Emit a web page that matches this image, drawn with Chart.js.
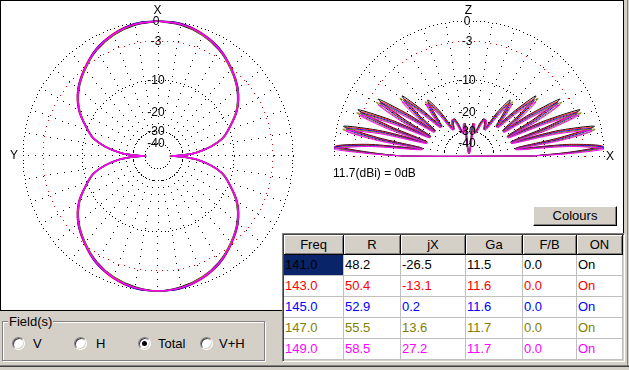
<!DOCTYPE html>
<html><head><meta charset="utf-8">
<script src="https://cdn.jsdelivr.net/npm/chart.js@4.4.0/dist/chart.umd.min.js"></script>
<style>
html,body{margin:0;padding:0;}
body{width:629px;height:370px;background:#d4d0c8;position:relative;overflow:hidden;font-family:Arial,"Liberation Sans",sans-serif;color:#000;}
#panel{position:absolute;left:0;top:0;width:624px;height:311px;box-sizing:border-box;border:1px solid #000;background:#fff;}
canvas{position:absolute;}
.lbl{position:absolute;font-size:12px;line-height:12px;transform:translate(-50%,-50%);white-space:nowrap;}
#btn{position:absolute;left:533px;top:206px;width:84px;height:20px;box-sizing:border-box;border:1px solid;border-color:#fff #000 #000 #fff;box-shadow:inset -1px -1px 0 #808080;background:#d4d0c8;font-size:13px;line-height:18px;text-align:center;}
#tbl{position:absolute;left:282px;top:233px;width:343px;height:129px;box-sizing:border-box;border:1px solid;border-color:#808080 #fff #fff #808080;box-shadow:inset 1px 1px 0 #404040;background:#d4d0c8;padding:1px 0 0 1px;}
table{border-collapse:separate;border-spacing:0;table-layout:fixed;font-size:13px;}
th,td{box-sizing:border-box;padding:0;white-space:nowrap;overflow:hidden;}
th{height:20px;font-weight:normal;background:#d4d0c8;border-right:1px solid #000;border-bottom:1px solid #000;box-shadow:inset 1px 1px 0 #fff,inset -1px -1px 0 #808080;text-align:center;line-height:18px;}
td{height:21px;background:#fff;border-right:1px solid #c0c0c0;border-bottom:1px solid #c0c0c0;padding-left:1px;line-height:20px;}
td.sel{background:#0a246a;}
#grp{position:absolute;left:2px;top:321px;width:263px;height:40px;box-sizing:border-box;border:1px solid #808080;box-shadow:inset 1px 1px 0 #fff,1px 1px 0 #fff;}
#grpLbl{position:absolute;left:8px;top:314px;font-size:13px;line-height:15px;background:#d4d0c8;padding:0 1px;}
.rb{position:absolute;top:337px;width:13px;height:13px;border-radius:50%;background:#fff;box-sizing:border-box;border:1px solid;border-color:#808080 #fff #fff #808080;box-shadow:inset 1px 1px 0 #404040,inset -1px -1px 0 #d4d0c8;}
.rb.on::after{content:'';position:absolute;left:3px;top:3px;width:5px;height:5px;border-radius:50%;background:#000;}
.rt{position:absolute;top:336px;font-size:13px;line-height:15px;}
#edgeR{position:absolute;left:627px;top:0;width:1px;height:366px;background:#808080;}
#edgeB1{position:absolute;left:0;top:365px;width:629px;height:1px;background:#808080;}
#edgeB2{position:absolute;left:0;top:366px;width:629px;height:1px;background:#404040;}
</style></head>
<body>
<div id="panel"></div>
<canvas id="azC" width="316" height="310" style="left:0;top:0;width:316px;height:310px"></canvas>
<canvas id="elC" width="300" height="190" style="left:320px;top:0;width:300px;height:190px"></canvas>
<div id="btn">Colours</div>
<div id="tbl"><table>
<colgroup><col style="width:60px"><col style="width:57px"><col style="width:65px"><col style="width:57px"><col style="width:54px"><col style="width:46px"></colgroup>
<thead><tr id="hdr"></tr></thead><tbody id="tb"></tbody></table></div>
<div id="grp"></div><div id="grpLbl">Field(s)</div>
<div id="radios"></div>
<div id="edgeR"></div><div id="edgeB1"></div><div id="edgeB2"></div>
<script>
// ---------------- DATA ----------------
const freqs  = ['141.0','143.0','145.0','147.0','149.0'];
const resR   = ['48.2','50.4','52.9','55.5','58.5'];
const resJX  = ['-26.5','-13.1','0.2','13.6','27.2'];
const gainGa = ['11.5','11.6','11.6','11.7','11.7'];
const fbVals = ['0.0','0.0','0.0','0.0','0.0'];
const onVals = ['On','On','On','On','On'];
const headers = ['Freq','R','jX','Ga','F/B','ON'];
const fieldOptions = ['V','H','Total','V+H'];
const fieldSelected = 'Total';
const refText = '11.7(dBi) = 0dB';

// dB ring tick labels
const ringTicks = [0,-3,-10,-20,-30,-40];

// Azimuth pattern (angle from X axis, degrees) and gain (dB) per frequency
const azAngles = [0,10,20,30,40,50,60,70,75,80,85,88,90,92,95,100,105,110,120,130,140,150,160,170,180,190,200,210,220,230,240,250,255,260,265,268,270,272,275,280,285,290,300,310,320,330,340,350,360];
const az141 = [0,-0.3,-0.9,-1.9,-3.3,-5.1,-7.4,-10.6,-13.1,-17.2,-23.3,-30.4,-41,-30.4,-23.3,-17.2,-13.1,-10.6,-7.4,-5.1,-3.3,-1.9,-0.9,-0.3,0,-0.3,-0.9,-1.9,-3.3,-5.1,-7.4,-10.6,-13.1,-17.2,-23.3,-30.4,-41,-30.4,-23.3,-17.2,-13.1,-10.6,-7.4,-5.1,-3.3,-1.9,-0.9,-0.3,0];
const az143 = [0,-0.1,-0.7,-1.7,-3.1,-4.9,-7.2,-10.4,-12.9,-16.9,-22.8,-29.6,-39,-29.6,-22.8,-16.9,-12.9,-10.4,-7.2,-4.9,-3.1,-1.7,-0.7,-0.1,0,-0.1,-0.7,-1.7,-3.1,-4.9,-7.2,-10.4,-12.9,-16.9,-22.8,-29.6,-39,-29.6,-22.8,-16.9,-12.9,-10.4,-7.2,-4.9,-3.1,-1.7,-0.7,-0.1,0];
const az145 = [0,-0.1,-0.8,-1.7,-3.2,-4.9,-7.3,-10.4,-13,-16.9,-23,-29.8,-40,-29.8,-23,-16.9,-13,-10.4,-7.3,-4.9,-3.2,-1.7,-0.8,-0.1,0,-0.1,-0.8,-1.7,-3.2,-4.9,-7.3,-10.4,-13,-16.9,-23,-29.8,-40,-29.8,-23,-16.9,-13,-10.4,-7.3,-4.9,-3.2,-1.7,-0.8,-0.1,0];
const az147 = [0,-0.2,-0.9,-1.8,-3.3,-5,-7.4,-10.5,-13.1,-17,-23.1,-30.2,-40.5,-30.2,-23.1,-17,-13.1,-10.5,-7.4,-5,-3.3,-1.8,-0.9,-0.2,0,-0.2,-0.9,-1.8,-3.3,-5,-7.4,-10.5,-13.1,-17,-23.1,-30.2,-40.5,-30.2,-23.1,-17,-13.1,-10.5,-7.4,-5,-3.3,-1.8,-0.9,-0.2,0];
const az149 = [0,-0.2,-0.8,-1.8,-3.2,-5,-7.3,-10.5,-13,-17,-23,-30,-40,-30,-23,-17,-13,-10.5,-7.3,-5,-3.2,-1.8,-0.8,-0.2,0,-0.2,-0.8,-1.8,-3.2,-5,-7.3,-10.5,-13,-17,-23,-30,-40,-30,-23,-17,-13,-10.5,-7.3,-5,-3.2,-1.8,-0.8,-0.2,0];

// Elevation pattern (angle from X horizon, degrees) per frequency, gain (dB)
const el141 = [0,2.2,4.3,6.6,9.3,11.4,13.3,15.9,18.5,20.6,22.6,24.9,27.2,29.6,32,34.4,36.9,39.4,41.9,44.6,47.5,50.6,53.6,57.1,60.6,64.6,68.1,71.6,76.6,83.6,90,96.4,103.4,108.4,111.9,115.4,119.4,122.9,126.4,129.4,132.5,135.4,138.1,140.6,143.1,145.6,148,150.4,152.8,155.1,157.4,159.4,161.5,164.1,166.7,168.6,170.7,173.4,175.7,177.8,180];
const el143 = [0,2,4,6.3,8.9,11,12.9,15.5,18,20.1,22.1,24.4,26.6,29,31.4,33.8,36.2,38.7,41.2,43.9,46.8,49.8,52.8,56.3,59.8,63.8,67.3,70.8,75.8,82.8,90,97.2,104.2,109.2,112.7,116.2,120.2,123.7,127.2,130.2,133.2,136.1,138.8,141.3,143.8,146.2,148.6,151,153.4,155.6,157.9,159.9,162,164.5,167.1,169,171.1,173.7,176,178,180];
const el145 = [0,1.8,3.7,6,8.5,10.5,12.4,15,17.5,19.5,21.5,23.8,26,28.3,30.7,33.1,35.5,38,40.5,43.2,46,49,52,55.5,59,63,66.5,70,75,82,90,98,105,110,113.5,117,121,124.5,128,131,134,136.8,139.5,142,144.5,146.9,149.3,151.7,154,156.2,158.5,160.5,162.5,165,167.6,169.5,171.5,174,176.3,178.2,180];
const el147 = [0,1.6,3.4,5.7,8.1,10,11.9,14.5,17,19,21,23.2,25.4,27.6,30,32.4,34.8,37.3,39.8,42.5,45.2,48.2,51.2,54.7,58.2,62.2,65.7,69.2,74.2,81.2,90,98.8,105.8,110.8,114.3,117.8,121.8,125.3,128.8,131.8,134.8,137.5,140.2,142.7,145.2,147.6,150,152.4,154.6,156.8,159,161,163,165.5,168.1,170,171.9,174.3,176.6,178.4,180];
const el149 = [0,1.4,3,5.4,7.7,9.6,11.5,14,16.5,18.4,20.4,22.7,24.8,27,29.4,31.8,34.1,36.6,39,41.8,44.5,47.4,50.4,53.9,57.4,61.4,64.9,68.4,73.4,80.4,90,99.6,106.6,111.6,115.1,118.6,122.6,126.1,129.6,132.6,135.5,138.2,141,143.4,145.9,148.2,150.6,153,155.2,157.3,159.6,161.6,163.5,166,168.5,170.4,172.3,174.6,177,178.6,180];
const elevDbA = [-14,-5.5,0,-5.5,-19,-7,-1.4,-7,-20,-8.5,-2.7,-8.5,-20.5,-10.5,-5,-10.5,-21,-13.5,-8.2,-13.5,-22,-17.5,-12.8,-17.5,-27,-24,-22,-25,-31,-26,-50,-26,-31,-25,-22,-24,-27,-17.5,-12.8,-17.5,-22,-13.5,-8.2,-13.5,-21,-10.5,-5,-10.5,-20.5,-8.5,-2.7,-8.5,-20,-7,-1.4,-7,-19,-5.5,0,-5.5,-14];
const elevDbB = [-14,-5.5,-0.3,-5.5,-19,-7,-0.9,-7,-20,-8.5,-2.2,-8.5,-20.5,-10.5,-4.4,-10.5,-21,-13.5,-7.5,-13.5,-22,-17.5,-12,-17.5,-27,-24,-22,-25,-31,-26,-50,-26,-31,-25,-22,-24,-27,-17.5,-12,-17.5,-22,-13.5,-7.5,-13.5,-21,-10.5,-4.4,-10.5,-20.5,-8.5,-2.2,-8.5,-20,-7,-0.9,-7,-19,-5.5,-0.3,-5.5,-14];

// ---------------- STYLE ----------------
const seriesColors = ['#000000','#ff0000','#0000ff','#808000','#ff00ff'];

// radial dB scale of the plots (log-like, as in the original program)
function rOf(db){
  const d=[0,-3,-10,-20,-30,-40], r=[135,115,76,44,25,13];
  if(db>=0) return 135+db*20/3;
  for(let i=1;i<d.length;i++){ if(db>=d[i]) return r[i-1]+(db-d[i-1])/(d[i]-d[i-1])*(r[i]-r[i-1]); }
  return Math.max(0,13+(db+40)*1.1);
}
function azPts(ang,db){ return ang.map((a,i)=>{const r=rOf(db[i]),t=a*Math.PI/180;return {x:r*Math.sin(t),y:r*Math.cos(t)};}); }
function elPts(ang,db){ const p=ang.map((a,i)=>{const r=rOf(db[i]),t=a*Math.PI/180;return {x:r*Math.cos(t),y:r*Math.sin(t)};}); p.push({x:p[0].x,y:p[0].y}); return p; }

function dot(ctx,x,y){ ctx.fillRect(Math.round(x-0.5),Math.round(y-0.5),1,1); }
const polarGrid={
  id:'polarGrid',
  beforeDatasetsDraw(chart,args,o){
    if(!o||!o.rings) return;
    const ctx=chart.ctx,xs=chart.scales.x,ys=chart.scales.y;
    const cx=xs.getPixelForValue(0),cy=ys.getPixelForValue(0),k=xs.getPixelForValue(1)-cx;
    ctx.save();
    ctx.fillStyle='#000';
    const rin=rOf(o.spokeFrom)*k, rout=rOf(0)*k;
    for(let a=o.a0;a<=o.a1;a+=10){
      const t=a*Math.PI/180;
      for(let r=rin;r<=rout;r+=o.spokeStep) dot(ctx,cx+r*Math.cos(t),cy-r*Math.sin(t));
    }
    o.rings.forEach(g=>{
      ctx.fillStyle=g.color;
      const R=rOf(g.db)*k, a0=0, a1=o.half?Math.PI:2*Math.PI;
      const n=Math.max(1,Math.round(R*(a1-a0)/g.step));
      for(let i=0;i<=n;i++){const t=a0+(a1-a0)*i/n; dot(ctx,cx+R*Math.cos(t),cy-R*Math.sin(t));}
    });
    ctx.restore();
  }
};
Chart.register(polarGrid);

function opts(xmin,xmax,ymin,ymax,grid){
  return {responsive:false,animation:false,events:[],layout:{padding:0},
    plugins:{legend:{display:false},tooltip:{enabled:false},polarGrid:grid},
    scales:{x:{type:'linear',display:false,min:xmin,max:xmax},y:{type:'linear',display:false,min:ymin,max:ymax}}};
}
const rings=[{db:0,color:'#000',step:4},{db:-3,color:'#ff0000',step:5.5},{db:-10,color:'#000',step:4},{db:-30,color:'#000',step:3},{db:-40,color:'#000',step:3}];

const azSets=[az141,az143,az145,az147,az149];
const elSets=[el141,el143,el145,el147,el149];
const elDbSets=[elevDbB,elevDbA,elevDbA,elevDbB,elevDbA];
const order=[4,3,2,1,0];
const azChart=new Chart(document.getElementById('azC'),{type:'scatter',
  data:{datasets:order.map(i=>({label:freqs[i],data:azPts(azAngles,azSets[i]),showLine:true,borderColor:seriesColors[i],borderWidth:1.5,pointRadius:0,tension:0.35}))},
  options:opts(-158,158,-154,156,{rings:rings,a0:0,a1:350,spokeFrom:-30,spokeStep:7,half:false})});
const elChart=new Chart(document.getElementById('elC'),{type:'scatter',
  data:{datasets:order.map(i=>({label:freqs[i],data:elPts(elSets[i],elDbSets[i]),showLine:true,borderColor:seriesColors[i],borderWidth:1,pointRadius:0,tension:0.3}))},
  options:opts(-149,151,-34,156,{rings:rings,a0:0,a1:180,spokeFrom:-30,spokeStep:7,half:true})});

// ---------------- TEXT ----------------
function addLbl(text,x,y,align){
  const s=document.createElement('div'); s.className='lbl'; s.textContent=text;
  s.style.left=x+'px'; s.style.top=y+'px';
  if(align==='left') s.style.transform='translate(0,-50%)';
  document.body.appendChild(s);
}
function plotLabels(chart,offX,offY,axisTop,axisSide,sideRight){
  const cx=offX+chart.scales.x.getPixelForValue(0), cy=offY+chart.scales.y.getPixelForValue(0);
  addLbl(axisTop,cx-0.5,cy-146);
  ringTicks.forEach(t=>addLbl(String(t),cx-2,cy-rOf(t)));
  if(sideRight) addLbl(axisSide,cx+141,cy); else addLbl(axisSide,cx-144,cy-1);
  return {cx,cy};
}
plotLabels(azChart,0,0,'X','Y',false);
const ec=plotLabels(elChart,320,0,'Z','X',true);
addLbl(refText,ec.cx-136,ec.cy+17,'left');

// table
const hdr=document.getElementById('hdr');
headers.forEach(h=>{const th=document.createElement('th');th.textContent=h;hdr.appendChild(th);});
const tb=document.getElementById('tb');
freqs.forEach((f,i)=>{
  const tr=document.createElement('tr');
  [f,resR[i],resJX[i],gainGa[i],fbVals[i],onVals[i]].forEach((v,j)=>{
    const td=document.createElement('td'); td.textContent=v; td.style.color=seriesColors[i];
    if(i===0&&j===0) td.className='sel';
    tr.appendChild(td);
  });
  tb.appendChild(tr);
});
// radios
const rx=[12,74,138,200], tx=[33,96,158,219];
const rd=document.getElementById('radios');
fieldOptions.forEach((f,i)=>{
  const c=document.createElement('div'); c.className='rb'+(f===fieldSelected?' on':''); c.style.left=rx[i]+'px'; rd.appendChild(c);
  const t=document.createElement('div'); t.className='rt'; t.textContent=f; t.style.left=tx[i]+'px'; rd.appendChild(t);
});
</script>
</body></html>
